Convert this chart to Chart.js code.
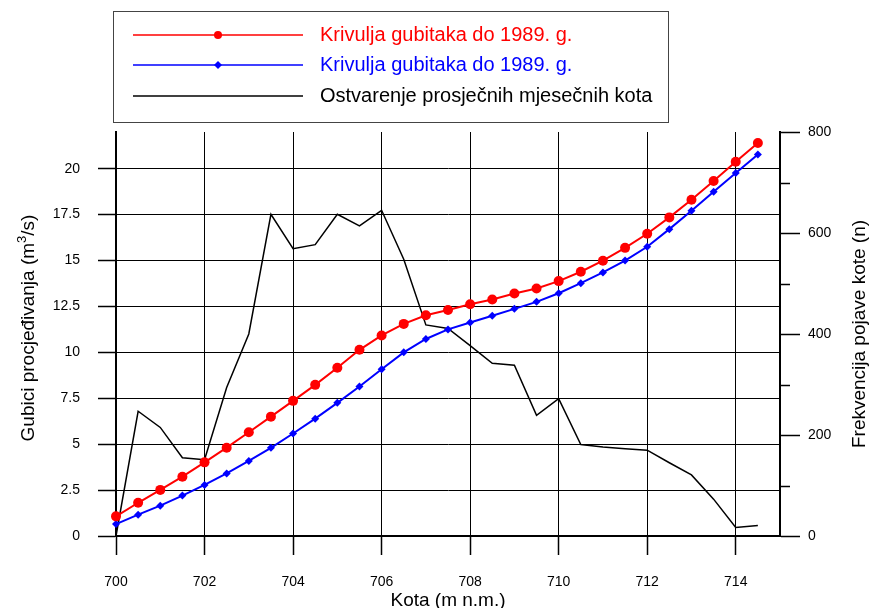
<!DOCTYPE html>
<html>
<head>
<meta charset="utf-8">
<script src="https://cdn.jsdelivr.net/npm/chart.js@4"></script>
<style>
  body { margin: 0; background: #fff; }
  canvas { display: block; }
</style>
</head>
<body>
<canvas id="chart" width="873" height="608"></canvas>
<script>
const kota = [700, 700.5, 701, 701.5, 702, 702.5, 703, 703.5, 704, 704.5, 705, 705.5, 706, 706.5, 707,
  707.5, 708, 708.5, 709, 709.5, 710, 710.5, 711, 711.5, 712, 712.5, 713, 713.5, 714, 714.5];
const gubiciCrvena = [1.07, 1.81, 2.51, 3.23, 4.01, 4.81, 5.65, 6.50, 7.36, 8.23, 9.16, 10.14, 10.92, 11.55, 12.02,
  12.31, 12.62, 12.88, 13.21, 13.48, 13.88, 14.39, 14.99, 15.69, 16.46, 17.35, 18.31, 19.33, 20.38, 21.40];
const gubiciPlava = [0.65, 1.16, 1.65, 2.20, 2.78, 3.41, 4.09, 4.80, 5.58, 6.39, 7.25, 8.14, 9.08, 10.00, 10.73,
  11.25, 11.63, 11.99, 12.37, 12.75, 13.22, 13.77, 14.35, 15.00, 15.75, 16.71, 17.71, 18.75, 19.77, 20.78];
const frekvencija = [0, 247, 215, 155, 151, 294, 400, 637, 569, 577, 637, 614, 645, 548, 418,
  411, 377, 342, 338, 239, 272, 181, 176, 173, 170, 145, 121, 73, 17, 21];
const labels = ['Krivulja gubitaka do 1989. g.', 'Krivulja gubitaka do 1989. g.', 'Ostvarenje prosječnih mjesečnih kota'];

const FONT = "'Liberation Sans', Arial, sans-serif";
const pts = (vals) => kota.map((k, i) => ({ x: k, y: vals[i] }));

// legend box + rotated y titles + minor ticks on the right axis
const extras = {
  id: 'extras',
  afterDraw(chart) {
    const ctx = chart.ctx;
    ctx.save();

    // legend
    ctx.strokeStyle = '#444';
    ctx.lineWidth = 1;
    ctx.strokeRect(113.5, 11.5, 555, 111);
    const rows = [35, 65, 96];
    chart.data.datasets.forEach((ds, i) => {
      const y = rows[i];
      ctx.strokeStyle = ds.borderColor;
      ctx.lineWidth = 1.5;
      ctx.beginPath();
      ctx.moveTo(133, y);
      ctx.lineTo(303, y);
      ctx.stroke();
      if (ds.pointRadius > 0) {
        ctx.fillStyle = ds.borderColor;
        ctx.beginPath();
        if (ds.pointStyle === 'rectRot') {
          const r = ds.pointRadius;
          ctx.moveTo(218, y - r); ctx.lineTo(218 + r, y); ctx.lineTo(218, y + r); ctx.lineTo(218 - r, y);
          ctx.closePath();
        } else {
          ctx.arc(218, y, ds.pointRadius - 1, 0, Math.PI * 2);
        }
        ctx.fill();
      }
      ctx.fillStyle = ds.borderColor;
      ctx.font = '20px ' + FONT;
      ctx.textBaseline = 'middle';
      ctx.textAlign = 'left';
      ctx.fillText(ds.label, 320, y);
    });

    // left title with superscript
    ctx.fillStyle = '#000';
    ctx.translate(29, 328);
    ctx.rotate(-Math.PI / 2);
    const a = 'Gubici procjeđivanja (m', b = '3', c = '/s)';
    ctx.font = '19px ' + FONT;
    const wa = ctx.measureText(a).width, wc = ctx.measureText(c).width;
    ctx.font = '13px ' + FONT;
    const wb = ctx.measureText(b).width;
    let x = -(wa + wb + wc) / 2;
    ctx.textBaseline = 'middle';
    ctx.textAlign = 'left';
    ctx.font = '19px ' + FONT;
    ctx.fillText(a, x, 0); x += wa;
    ctx.font = '13px ' + FONT;
    ctx.fillText(b, x, -7); x += wb;
    ctx.font = '19px ' + FONT;
    ctx.fillText(c, x, 0);
    ctx.setTransform(1, 0, 0, 1, 0, 0);

    // right title
    ctx.translate(860, 334);
    ctx.rotate(-Math.PI / 2);
    ctx.textAlign = 'center';
    ctx.fillText('Frekvencija pojave kote (n)', 0, 0);
    ctx.setTransform(1, 0, 0, 1, 0, 0);

    // minor ticks right axis
    const y1 = chart.scales.y1;
    ctx.strokeStyle = '#000';
    ctx.lineWidth = 1.5;
    [100, 300, 500, 700].forEach(v => {
      const py = Math.round(y1.getPixelForValue(v)) + 0.5;
      ctx.beginPath();
      ctx.moveTo(y1.left, py);
      ctx.lineTo(y1.left + 10, py);
      ctx.stroke();
    });
    ctx.restore();
  }
};

new Chart(document.getElementById('chart'), {
  type: 'line',
  data: {
    datasets: [
      {
        label: labels[0],
        data: pts(gubiciCrvena),
        borderColor: '#ff0000',
        backgroundColor: '#ff0000',
        borderWidth: 2,
        pointRadius: 5,
        pointStyle: 'circle',
        pointBorderWidth: 0,
        yAxisID: 'y',
        clip: false
      },
      {
        label: labels[1],
        data: pts(gubiciPlava),
        borderColor: '#0000ff',
        backgroundColor: '#0000ff',
        borderWidth: 2,
        pointRadius: 4,
        pointStyle: 'rectRot',
        pointBorderWidth: 0,
        yAxisID: 'y',
        clip: false
      },
      {
        label: labels[2],
        data: pts(frekvencija),
        borderColor: '#000000',
        borderWidth: 1.5,
        pointRadius: 0,
        yAxisID: 'y1',
        clip: false
      }
    ]
  },
  options: {
    responsive: false,
    animation: false,
    events: [],
    layout: { padding: { top: 132, left: 0, right: 0, bottom: 0 } },
    plugins: {
      legend: { display: false },
      tooltip: { enabled: false }
    },
    scales: {
      x: {
        type: 'linear',
        min: 700,
        max: 715,
        afterFit: (s) => { s.height = 72; },
        ticks: {
          stepSize: 2,
          includeBounds: false,
          color: '#000',
          font: { family: FONT, size: 14 },
          padding: 19,
          maxRotation: 0
        },
        grid: { color: '#000', lineWidth: 1, tickLength: 19, tickWidth: 1.5, tickColor: '#000' },
        border: { display: true, color: '#000', width: 2 },
        title: {
          display: true,
          text: 'Kota (m n.m.)',
          color: '#000',
          font: { family: FONT, size: 19, lineHeight: 0.75 },
          padding: { top: 0, bottom: 0 }
        }
      },
      y: {
        position: 'left',
        min: 0,
        max: 22,
        afterFit: (s) => { s.width = 116; },
        ticks: {
          stepSize: 2.5,
          includeBounds: false,
          color: '#000',
          font: { family: FONT, size: 14 },
          padding: 18
        },
        grid: { color: '#000', lineWidth: 1, tickLength: 18, tickWidth: 1.5, tickColor: '#000' },
        border: { display: true, color: '#000', width: 2 }
      },
      y1: {
        position: 'right',
        min: 0,
        max: 800,
        afterFit: (s) => { s.width = 93; },
        ticks: {
          stepSize: 200,
          color: '#000',
          font: { family: FONT, size: 14 },
          padding: 8
        },
        grid: { drawOnChartArea: false, tickLength: 20, tickWidth: 1.5, tickColor: '#000' },
        border: { display: true, color: '#000', width: 2 }
      }
    }
  },
  plugins: [extras]
});
</script>
</body>
</html>
